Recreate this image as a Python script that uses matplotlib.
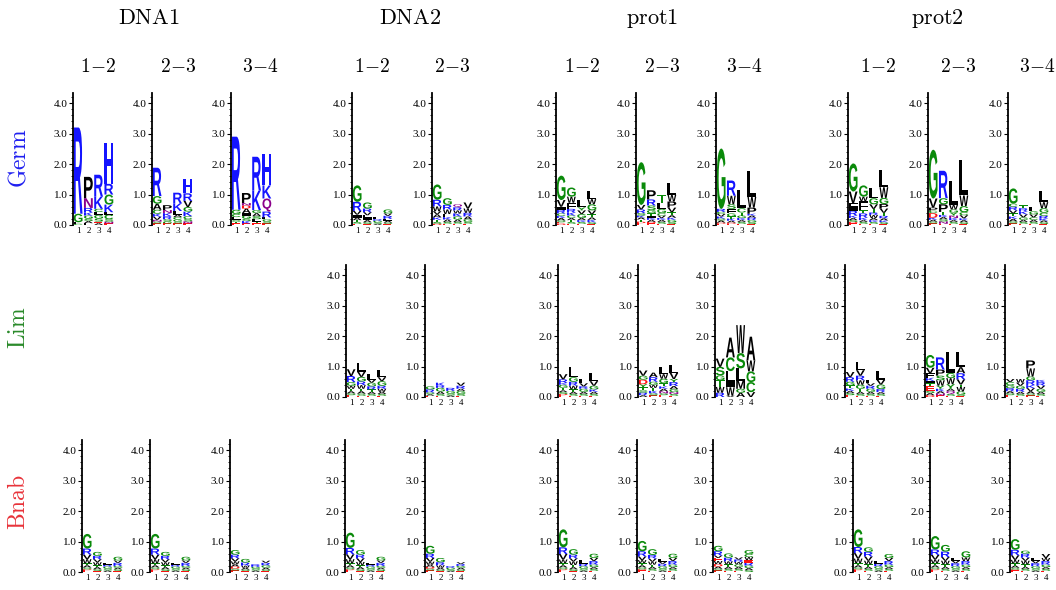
import matplotlib
matplotlib.use("Agg")
import matplotlib.pyplot as plt
from matplotlib.font_manager import FontProperties
from matplotlib.patches import PathPatch
from matplotlib.textpath import TextPath
from matplotlib.transforms import Affine2D
from matplotlib.ticker import MultipleLocator

plt.rcParams["mathtext.fontset"] = "cm"

# ---- data: each panel = 4 positions, letters stacked bottom -> top (bits) ----
GERM_DNA1_12 = [
    [("C", .04), ("L", .05), ("G", .28), ("R", 2.83)],
    [("L", .06), ("A", .07), ("S", .08), ("G", .1), ("K", .1), ("R", .15), ("N", .32), ("P", .7)],
    [("A", .06), ("E", .05), ("S", .1), ("G", .12), ("L", .1), ("C", .1), ("K", .4), ("R", .72)],
    [("E", .05), ("N", .06), ("S", .08), ("C", .15), ("L", .08), ("K", .25), ("G", .33), ("R", .35), ("H", 1.35)],
]
GERM_DNA1_23 = [
    [("E", .05), ("S", .06), ("N", .06), ("V", .1), ("K", .1), ("C", .13), ("A", .2), ("G", .25), ("R", .93)],
    [("E", .05), ("G", .07), ("S", .07), ("R", .1), ("K", .1), ("N", .1), ("P", .16)],
    [("E", .05), ("S", .06), ("G", .07), ("C", .08), ("A", .08), ("L", .12), ("K", .25), ("R", .35)],
    [("E", .05), ("N", .07), ("S", .07), ("C", .1), ("K", .15), ("G", .15), ("V", .2), ("R", .25), ("H", .47)],
]
GERM_DNA1_34 = [
    [("E", .05), ("T", .06), ("S", .07), ("L", .08), ("C", .1), ("G", .14), ("R", 2.4)],
    [("E", .05), ("K", .08), ("S", .08), ("G", .1), ("I", .08), ("A", .15), ("D", .1), ("N", .08), ("P", .33)],
    [("E", .05), ("T", .06), ("L", .08), ("S", .1), ("A", .1), ("G", .1), ("K", .64), ("R", 1.11)],
    [("E", .05), ("S", .07), ("G", .07), ("L", .06), ("R", .19), ("Q", .43), ("K", .43), ("H", 1.03)],
]
GERM_DNA2_12 = [
    [("E", .04), ("S", .06), ("T", .06), ("A", .08), ("I", .1), ("V", .12), ("R", .3), ("G", .54)],
    [("E", .03), ("S", .06), ("A", .07), ("I", .08), ("L", .08), ("V", .1), ("R", .12), ("G", .2)],
    [("A", .04), ("S", .05), ("G", .05), ("R", .05), ("L", .07)],
    [("E", .03), ("S", .05), ("A", .06), ("L", .06), ("R", .1), ("V", .08), ("G", .13)],
]
GERM_DNA2_23 = [
    [("D", .04), ("S", .06), ("T", .07), ("K", .08), ("A", .1), ("V", .1), ("W", .16), ("R", .22), ("G", .5)],
    [("E", .04), ("S", .06), ("A", .08), ("K", .08), ("L", .1), ("W", .15), ("R", .15), ("G", .22)],
    [("E", .04), ("S", .06), ("A", .08), ("G", .1), ("K", .1), ("W", .1), ("R", .1), ("Q", .1)],
    [("E", .04), ("S", .06), ("G", .08), ("A", .1), ("R", .12), ("W", .14), ("V", .2)],
]
GERM_PROT1_12 = [
    [("D", .05), ("E", .04), ("S", .06), ("A", .08), ("K", .07), ("C", .08), ("R", .12), ("I", .1), ("V", .22), ("G", .8)],
    [("E", .04), ("S", .06), ("T", .06), ("A", .07), ("C", .08), ("K", .1), ("R", .12), ("F", .2), ("W", .2), ("G", .3)],
    [("E", .04), ("S", .06), ("K", .06), ("A", .07), ("G", .13), ("V", .12), ("Y", .1), ("L", .25)],
    [("E", .03), ("S", .06), ("K", .08), ("A", .08), ("T", .1), ("V", .13), ("G", .2), ("W", .17), ("L", .25)],
]
GERM_PROT1_23 = [
    [("E", .06), ("D", .05), ("T", .07), ("A", .07), ("K", .06), ("S", .08), ("R", .12), ("V", .15), ("G", 1.4)],
    [("E", .05), ("D", .05), ("A", .07), ("K", .06), ("I", .08), ("T", .08), ("G", .1), ("S", .15), ("R", .2), ("P", .3)],
    [("E", .04), ("S", .06), ("A", .07), ("K", .06), ("V", .08), ("C", .08), ("G", .14), ("L", .2), ("T", .25)],
    [("E", .03), ("S", .06), ("G", .08), ("K", .07), ("A", .08), ("T", .1), ("V", .15), ("P", .2), ("W", .22), ("L", .38)],
]
GERM_PROT1_34 = [
    [("E", .04), ("D", .04), ("A", .07), ("S", .06), ("K", .07), ("V", .08), ("C", .07), ("R", .1), ("G", 1.98)],
    [("E", .04), ("D", .04), ("A", .06), ("K", .07), ("T", .07), ("G", .1), ("F", .15), ("S", .15), ("W", .28), ("R", .5)],
    [("E", .04), ("S", .06), ("A", .06), ("K", .07), ("G", .08), ("T", .1), ("C", .14), ("L", .6)],
    [("E", .03), ("S", .06), ("G", .07), ("R", .08), ("A", .07), ("K", .06), ("P", .2), ("W", .35), ("L", .85)],
]
GERM_PROT2_12 = [
    [("E", .05), ("D", .05), ("S", .06), ("A", .07), ("K", .08), ("R", .16), ("I", .15), ("F", .1), ("V", .38), ("G", .92)],
    [("E", .04), ("S", .06), ("A", .06), ("K", .08), ("R", .14), ("T", .1), ("F", .3), ("W", .15), ("G", .37)],
    [("E", .04), ("S", .06), ("K", .06), ("A", .07), ("W", .1), ("R", .08), ("T", .12), ("V", .15), ("G", .2), ("L", .33)],
    [("E", .03), ("S", .06), ("K", .06), ("A", .07), ("R", .08), ("T", .1), ("V", .14), ("P", .15), ("G", .2), ("W", .35), ("L", .55)],
]
GERM_PROT2_23 = [
    [("E", .05), ("S", .06), ("A", .06), ("K", .07), ("D", .15), ("C", .08), ("P", .1), ("V", .3), ("G", 1.6)],
    [("E", .04), ("N", .08), ("S", .07), ("A", .07), ("K", .07), ("T", .1), ("P", .25), ("G", .2), ("R", .9)],
    [("E", .04), ("S", .06), ("A", .06), ("K", .07), ("N", .08), ("Y", .1), ("G", .1), ("W", .15), ("L", .8)],
    [("E", .03), ("S", .06), ("A", .07), ("K", .06), ("V", .1), ("C", .1), ("G", .2), ("W", .35), ("L", 1.15)],
]
GERM_PROT2_34 = [
    [("E", .05), ("S", .07), ("A", .08), ("K", .08), ("T", .1), ("V", .1), ("R", .12), ("C", .1), ("G", .5)],
    [("E", .04), ("S", .06), ("A", .07), ("G", .08), ("V", .1), ("K", .1), ("R", .1), ("T", .1)],
    [("E", .04), ("S", .06), ("A", .07), ("C", .08), ("V", .1), ("G", .1), ("L", .15)],
    [("E", .03), ("S", .06), ("A", .06), ("K", .07), ("R", .08), ("C", .1), ("G", .15), ("W", .2), ("L", .38)],
]

LIM_DNA2_12 = [
    [("E", .06), ("S", .06), ("A", .07), ("T", .08), ("W", .1), ("G", .12), ("R", .2), ("V", .22)],
    [("E", .04), ("S", .07), ("A", .08), ("T", .08), ("W", .12), ("R", .12), ("G", .15), ("V", .17), ("L", .27)],
    [("E", .04), ("S", .06), ("A", .07), ("T", .08), ("R", .1), ("G", .12), ("V", .1), ("L", .17)],
    [("E", .04), ("S", .06), ("A", .07), ("W", .1), ("R", .1), ("G", .15), ("V", .13), ("L", .25)],
]
LIM_DNA2_23 = [
    [("E", .04), ("A", .05), ("S", .06), ("R", .1), ("G", .1)],
    [("E", .04), ("S", .06), ("A", .08), ("G", .12), ("R", .07), ("K", .1)],
    [("A", .05), ("S", .06), ("G", .09), ("R", .1)],
    [("E", .04), ("S", .06), ("G", .1), ("A", .07), ("R", .1), ("V", .1)],
]
LIM_PROT1_12 = [
    [("E", .06), ("D", .04), ("S", .06), ("A", .06), ("T", .08), ("G", .1), ("K", .06), ("R", .12), ("V", .17)],
    [("E", .04), ("S", .06), ("A", .07), ("T", .08), ("W", .12), ("R", .13), ("G", .15), ("L", .33)],
    [("E", .04), ("S", .06), ("A", .07), ("G", .1), ("R", .08), ("V", .1), ("L", .15)],
    [("E", .04), ("S", .06), ("A", .07), ("K", .08), ("G", .12), ("V", .15), ("L", .28)],
]
LIM_PROT1_23 = [
    [("A", .06), ("R", .08), ("S", .08), ("T", .1), ("Y", .1), ("D", .15), ("G", .13), ("V", .17)],
    [("E", .05), ("S", .07), ("K", .08), ("T", .1), ("W", .1), ("G", .1), ("R", .15), ("A", .15)],
    [("E", .06), ("S", .06), ("N", .07), ("A", .08), ("K", .08), ("T", .1), ("G", .15), ("W", .15), ("L", .22)],
    [("E", .04), ("S", .06), ("N", .06), ("G", .1), ("A", .1), ("R", .13), ("Y", .1), ("V", .2), ("L", .25)],
]
LIM_PROT1_34 = [
    [("R", .14), ("W", .19), ("T", .22), ("G", .16), ("S", .28), ("V", .27)],
    [("V", .04), ("W", .28), ("I", .2), ("L", .33), ("C", .45), ("A", .65)],
    [("A", .14), ("G", .13), ("M", .27), ("L", .4), ("S", .5), ("W", .92)],
    [("V", .16), ("C", .33), ("G", .35), ("W", .36), ("A", .78)],
]
LIM_PROT2_12 = [
    [("E", .06), ("S", .07), ("A", .07), ("K", .08), ("T", .1), ("G", .12), ("R", .15), ("V", .17)],
    [("E", .04), ("S", .06), ("A", .07), ("T", .1), ("G", .13), ("W", .15), ("R", .15), ("V", .18), ("L", .27)],
    [("E", .04), ("S", .06), ("A", .07), ("G", .1), ("R", .1), ("V", .08), ("L", .11)],
    [("E", .04), ("S", .06), ("A", .06), ("R", .1), ("G", .15), ("V", .15), ("L", .3)],
]
LIM_PROT2_23 = [
    [("D", .06), ("A", .07), ("S", .08), ("E", .14), ("T", .1), ("I", .08), ("K", .1), ("F", .15), ("V", .18), ("G", .42)],
    [("E", .05), ("N", .07), ("A", .07), ("K", .08), ("Y", .1), ("W", .18), ("S", .15), ("P", .2), ("R", .4)],
    [("E", .04), ("S", .06), ("Q", .1), ("A", .07), ("Y", .15), ("W", .2), ("G", .17), ("L", .7)],
    [("E", .03), ("S", .05), ("G", .1), ("W", .15), ("T", .08), ("V", .17), ("R", .2), ("A", .2), ("L", .5)],
]
LIM_PROT2_34 = [
    [("E", .06), ("S", .06), ("A", .07), ("R", .1), ("G", .1), ("C", .1), ("V", .1)],
    [("E", .04), ("S", .06), ("A", .07), ("R", .1), ("G", .1), ("V", .1), ("W", .12)],
    [("E", .05), ("S", .06), ("A", .08), ("V", .1), ("K", .1), ("R", .16), ("G", .12), ("W", .27), ("P", .26)],
    [("E", .04), ("S", .06), ("A", .07), ("G", .1), ("V", .1), ("R", .12), ("K", .07)],
]

BNAB_DNA1_12 = [
    [("E", .06), ("D", .03), ("S", .06), ("A", .07), ("T", .06), ("W", .14), ("V", .15), ("R", .2), ("G", .48)],
    [("E", .03), ("S", .06), ("A", .07), ("T", .06), ("W", .1), ("V", .1), ("R", .11), ("G", .13)],
    [("A", .05), ("S", .06), ("G", .07), ("R", .06), ("L", .06)],
    [("E", .03), ("S", .06), ("A", .05), ("G", .06), ("R", .1), ("V", .08), ("G", .12)],
]
BNAB_DNA1_23 = [
    [("E", .06), ("D", .03), ("S", .06), ("A", .07), ("T", .06), ("W", .14), ("V", .15), ("R", .2), ("G", .48)],
    [("E", .03), ("S", .06), ("A", .07), ("T", .06), ("W", .1), ("V", .1), ("R", .11), ("G", .13)],
    [("A", .05), ("S", .06), ("G", .07), ("R", .06), ("L", .06)],
    [("E", .03), ("S", .06), ("A", .05), ("G", .06), ("R", .1), ("V", .08), ("G", .12)],
]
BNAB_DNA1_34 = [
    [("E", .05), ("S", .06), ("D", .07), ("A", .07), ("W", .1), ("V", .1), ("R", .12), ("G", .15)],
    [("E", .03), ("S", .05), ("A", .06), ("W", .07), ("R", .1), ("G", .12)],
    [("A", .05), ("S", .06), ("G", .06), ("R", .08)],
    [("E", .03), ("S", .05), ("A", .06), ("G", .08), ("R", .08), ("V", .07)],
]
BNAB_DNA2_12 = [
    [("E", .06), ("D", .03), ("S", .06), ("A", .07), ("T", .06), ("W", .14), ("V", .16), ("R", .21), ("G", .5)],
    [("E", .03), ("S", .06), ("A", .07), ("T", .06), ("W", .11), ("V", .12), ("R", .12), ("G", .15)],
    [("A", .05), ("S", .06), ("G", .07), ("R", .06), ("L", .06)],
    [("E", .03), ("S", .06), ("A", .05), ("G", .06), ("R", .1), ("V", .08), ("G", .12)],
]
BNAB_DNA2_23 = [
    [("E", .05), ("S", .06), ("D", .06), ("A", .07), ("W", .1), ("V", .12), ("R", .14), ("G", .26)],
    [("E", .03), ("S", .05), ("A", .06), ("W", .08), ("R", .1), ("G", .14)],
    [("A", .04), ("S", .05), ("G", .05), ("R", .05)],
    [("E", .03), ("S", .05), ("A", .06), ("G", .06), ("R", .06), ("V", .06)],
]
BNAB_PROT1_12 = [
    [("E", .06), ("D", .03), ("S", .06), ("A", .07), ("T", .07), ("W", .12), ("V", .18), ("R", .22), ("G", .59)],
    [("E", .03), ("S", .06), ("A", .07), ("T", .07), ("W", .12), ("V", .1), ("R", .12), ("G", .18)],
    [("A", .05), ("S", .06), ("G", .08), ("R", .08), ("L", .11)],
    [("E", .04), ("S", .06), ("A", .06), ("G", .08), ("R", .12), ("V", .1), ("G", .14)],
]
BNAB_PROT1_23 = [
    [("E", .05), ("D", .04), ("S", .06), ("A", .07), ("T", .07), ("W", .1), ("V", .12), ("R", .17), ("G", .34)],
    [("E", .04), ("S", .06), ("A", .07), ("T", .07), ("W", .1), ("V", .1), ("R", .12), ("G", .19)],
    [("A", .05), ("S", .06), ("G", .08), ("R", .08), ("V", .07), ("L", .09)],
    [("E", .04), ("S", .06), ("A", .06), ("G", .08), ("R", .12), ("V", .1), ("G", .14)],
]
BNAB_PROT1_34 = [
    [("E", .05), ("S", .06), ("A", .07), ("D", .08), ("W", .1), ("E", .1), ("V", .08), ("R", .14), ("G", .18)],
    [("E", .04), ("S", .06), ("A", .07), ("T", .08), ("W", .1), ("R", .12), ("G", .14)],
    [("E", .04), ("S", .06), ("A", .07), ("G", .08), ("W", .08), ("R", .08), ("V", .07)],
    [("S", .06), ("A", .07), ("G", .08), ("R", .1), ("E", .08), ("W", .1), ("C", .1), ("G", .13)],
]
BNAB_PROT2_12 = [
    [("E", .06), ("D", .03), ("S", .06), ("A", .07), ("T", .07), ("W", .15), ("V", .18), ("R", .2), ("G", .58)],
    [("E", .04), ("S", .06), ("A", .07), ("T", .08), ("W", .12), ("V", .14), ("R", .15), ("G", .15)],
    [("A", .05), ("S", .06), ("G", .08), ("R", .08), ("L", .08)],
    [("E", .04), ("S", .06), ("A", .06), ("G", .08), ("R", .12), ("V", .1), ("G", .13)],
]
BNAB_PROT2_23 = [
    [("E", .06), ("D", .03), ("S", .06), ("A", .07), ("T", .07), ("W", .12), ("V", .15), ("R", .18), ("G", .44)],
    [("E", .04), ("S", .06), ("A", .07), ("T", .08), ("W", .12), ("V", .12), ("R", .18), ("G", .22)],
    [("A", .05), ("S", .06), ("G", .08), ("R", .1), ("V", .08), ("L", .09)],
    [("E", .04), ("S", .06), ("A", .06), ("G", .08), ("R", .12), ("W", .12), ("G", .2)],
]
BNAB_PROT2_34 = [
    [("E", .05), ("D", .03), ("S", .06), ("A", .07), ("T", .07), ("W", .12), ("V", .15), ("R", .18), ("G", .35)],
    [("E", .04), ("S", .06), ("A", .07), ("T", .08), ("W", .12), ("V", .1), ("R", .13), ("G", .1)],
    [("A", .05), ("S", .06), ("G", .08), ("R", .1), ("V", .08), ("L", .09)],
    [("E", .04), ("S", .06), ("A", .06), ("G", .08), ("R", .12), ("W", .1), ("V", .13)],
]

GROUPS = ["DNA1", "DNA2", "prot1", "prot2"]
ROWS = ["Germ", "Lim", "Bnab"]
PAIR_LABELS = {"DNA1": ["1-2", "2-3", "3-4"], "DNA2": ["1-2", "2-3"],
               "prot1": ["1-2", "2-3", "3-4"], "prot2": ["1-2", "2-3", "3-4"]}
POSITIONS = [1, 2, 3, 4]
Y_TICKS = [0, 1, 2, 3, 4]

PANELS = {
    ("Germ", "DNA1"): [GERM_DNA1_12, GERM_DNA1_23, GERM_DNA1_34],
    ("Germ", "DNA2"): [GERM_DNA2_12, GERM_DNA2_23],
    ("Germ", "prot1"): [GERM_PROT1_12, GERM_PROT1_23, GERM_PROT1_34],
    ("Germ", "prot2"): [GERM_PROT2_12, GERM_PROT2_23, GERM_PROT2_34],
    ("Lim", "DNA2"): [LIM_DNA2_12, LIM_DNA2_23],
    ("Lim", "prot1"): [LIM_PROT1_12, LIM_PROT1_23, LIM_PROT1_34],
    ("Lim", "prot2"): [LIM_PROT2_12, LIM_PROT2_23, LIM_PROT2_34],
    ("Bnab", "DNA1"): [BNAB_DNA1_12, BNAB_DNA1_23, BNAB_DNA1_34],
    ("Bnab", "DNA2"): [BNAB_DNA2_12, BNAB_DNA2_23],
    ("Bnab", "prot1"): [BNAB_PROT1_12, BNAB_PROT1_23, BNAB_PROT1_34],
    ("Bnab", "prot2"): [BNAB_PROT2_12, BNAB_PROT2_23, BNAB_PROT2_34],
}

# ---- layout (pixels) ----
W, H = 1056, 590
SPINE_X = {
    ("Germ", "DNA1"): [73, 152, 231], ("Germ", "DNA2"): [352, 432],
    ("Germ", "prot1"): [556, 636, 716], ("Germ", "prot2"): [848, 928, 1008],
    ("Lim", "DNA2"): [346, 425],
    ("Lim", "prot1"): [558, 638, 715], ("Lim", "prot2"): [845, 925, 1005],
    ("Bnab", "DNA1"): [82, 150, 230], ("Bnab", "DNA2"): [345, 425],
    ("Bnab", "prot1"): [558, 637, 713], ("Bnab", "prot2"): [853, 930, 1010],
}
ROW_Y0 = {"Germ": 225, "Lim": 397, "Bnab": 572}
ROW_LABEL_Y = {"Germ": 158, "Lim": 328, "Bnab": 502}
ROW_COLORS = {"Germ": "#1f1ff0", "Lim": "#2a8a2a", "Bnab": "#e8333a"}
GROUP_X = {"DNA1": 149, "DNA2": 410, "prot1": 652, "prot2": 937}
PAIR_X = {"DNA1": [98, 178, 261], "DNA2": [372, 452],
          "prot1": [582, 662, 745], "prot2": [878, 958, 1038]}
AX_W, AX_H = 41, 132.5
YMAX = 4.35

LETTER_FONT = FontProperties(family="Liberation Sans", weight="bold")
COLOR_GROUPS = [("GSTYC", "#0a8a0a"), ("KRH", "#1414ff"), ("NQ", "#8b008b"),
                ("DE", "#ff1010")]


def letter_color(ch):
    for letters, color in COLOR_GROUPS:
        if ch in letters:
            return color
    return "black"


def draw_letter(ax, ch, x, y, w, h):
    if h <= 0:
        return
    path = TextPath((0, 0), ch, size=1, prop=LETTER_FONT)
    ext = path.get_extents()
    tr = (Affine2D().translate(-ext.x0, -ext.y0)
          .scale(w / ext.width, h / ext.height)
          .translate(x - w / 2, y))
    ax.add_patch(PathPatch(tr.transform_path(path), fc=letter_color(ch),
                           ec="none", lw=0))


def draw_logo(ax, columns):
    for pos, stack in zip(POSITIONS, columns):
        bottom = 0.0
        for ch, h in stack:
            draw_letter(ax, ch, pos, bottom, 0.86, h)
            bottom += h
    ax.set_xlim(0.5, 4.5)
    ax.set_ylim(0, YMAX)
    for side in ["top", "right", "bottom"]:
        ax.spines[side].set_visible(False)
    ax.spines["left"].set_linewidth(1.3)
    ax.set_xticks(POSITIONS)
    ax.set_yticks(Y_TICKS)
    ax.set_yticklabels([f"{t:.1f}" for t in Y_TICKS])
    ax.yaxis.set_minor_locator(MultipleLocator(0.2))
    ax.tick_params(axis="y", which="major", length=3, width=0.8, pad=1,
                   labelsize=8)
    ax.tick_params(axis="y", which="minor", length=1.5, width=0.6)
    ax.tick_params(axis="x", length=0, pad=1.5, labelsize=6.5)
    for lab in ax.get_yticklabels() + ax.get_xticklabels():
        lab.set_fontfamily("Liberation Serif")
    ax.patch.set_visible(False)


fig = plt.figure(figsize=(W / 100, H / 100), dpi=100)

for (row, group), panels in PANELS.items():
    for columns, sx in zip(panels, SPINE_X[(row, group)]):
        y0 = ROW_Y0[row]
        ax = fig.add_axes([sx / W, (H - y0) / H, AX_W / W, AX_H / H])
        draw_logo(ax, columns)

for group in GROUPS:
    fig.text(GROUP_X[group] / W, 1 - 18 / H, r"$\mathrm{%s}$" % group,
             ha="center", va="center", fontsize=16)
    for label, px in zip(PAIR_LABELS[group], PAIR_X[group]):
        a, b = label.split("-")
        fig.text(px / W, 1 - 67 / H, r"$%s\!-\!%s$" % (a, b),
                 ha="center", va="center", fontsize=14)

for row in ROWS:
    fig.text(18 / W, 1 - ROW_LABEL_Y[row] / H, r"$\mathrm{%s}$" % row,
             rotation=90, ha="center", va="center", fontsize=17,
             color=ROW_COLORS[row])

fig.savefig("out.png", dpi=100)
